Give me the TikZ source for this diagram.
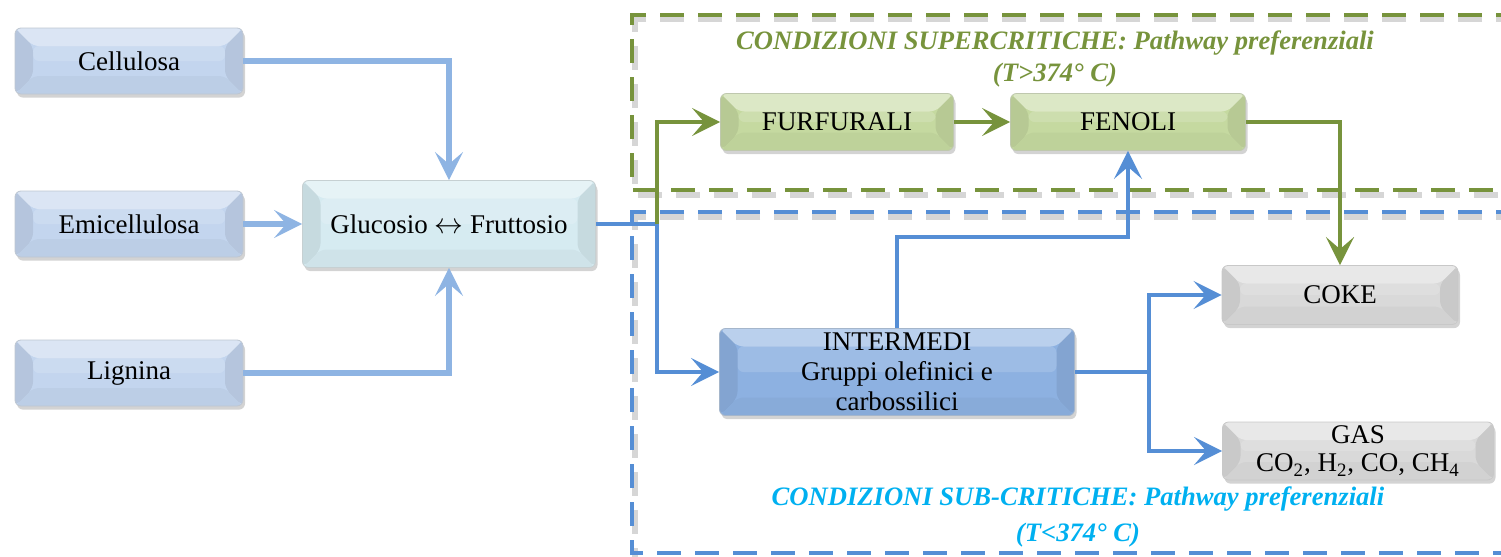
\documentclass[tikz,border=0pt]{standalone}
\usepackage{fontspec}
\setmainfont{Liberation Serif}
\usetikzlibrary{arrows.meta,shadows,calc}
\definecolor{lblue}{HTML}{8EB4E3}
\definecolor{dblue}{HTML}{558ED5}
\definecolor{grn}{HTML}{77933C}
\definecolor{cyantxt}{HTML}{00B0F0}
\definecolor{cbox}{HTML}{C3D5EE}
\definecolor{gbox}{HTML}{D6EBF1}
\definecolor{ibox}{HTML}{8DB1E1}
\definecolor{fbox}{HTML}{C5D9A0}
\definecolor{kbox}{HTML}{D9D9D9}
\tikzset{
  bev/.style n args={3}{rectangle, rounded corners=3pt, inner sep=0pt,
    minimum width=#2*0.5pt, minimum height=#3*0.5pt, align=center,
    fill=#1, draw=#1!75!black!60!white, line width=0.4pt,
    font=\fontsize{13.5}{15}\selectfont,
    drop shadow={shadow xshift=1pt, shadow yshift=-1.8pt, opacity=.35, fill=black!50},
    path picture={
      \coordinate (nw) at (path picture bounding box.north west);
      \coordinate (ne) at (path picture bounding box.north east);
      \coordinate (sw) at (path picture bounding box.south west);
      \coordinate (se) at (path picture bounding box.south east);
      \fill[white,opacity=.40] (nw) -- (ne) -- ($(ne)+(-9pt,-9pt)$) -- ($(nw)+(9pt,-9pt)$) -- cycle;
      \fill[white,opacity=.15] ($(nw)+(9pt,-9pt)$) rectangle ($(path picture bounding box.east)+(-9pt,0pt)$);
      \fill[black,opacity=.07] (nw) -- ($(nw)+(9pt,-9pt)$) -- ($(sw)+(9pt,9pt)$) -- (sw) -- cycle;
      \fill[black,opacity=.07] (ne) -- ($(ne)+(-9pt,-9pt)$) -- ($(se)+(-9pt,9pt)$) -- (se) -- cycle;
      \fill[black,opacity=.03] (sw) -- (se) -- ($(se)+(-9pt,9pt)$) -- ($(sw)+(9pt,9pt)$) -- cycle;
    }},
  tip/.style={-{Stealth[length=14pt,width=14pt,inset=6pt]}},
  lb/.style={draw=lblue, line width=2.8pt, tip, color=lblue},
  db/.style={draw=dblue, line width=2.4pt, tip, color=dblue},
  gr/.style={draw=grn, line width=2.4pt, tip, color=grn},
  dashbox/.style={line width=2.2pt, dash pattern=on 12pt off 7pt},
  shadowline/.style={line width=2.6pt, dash pattern=on 12pt off 7pt, draw=black, opacity=.16},
  lab/.style={font=\fontsize{13.3}{16}\selectfont\bfseries\itshape, align=center}
}
\begin{document}
\begin{tikzpicture}[x=0.5pt,y=-0.5pt]
\useasboundingbox (0,0) rectangle (1501,557);
\clip (0,0) rectangle (1501,557);
% dashed frames
\draw[shadowline] (1520,19) -- (635,19) -- (635,195) -- (1520,195);
\draw[dashbox, draw=grn] (1520,15) -- (632,15) -- (632,190) -- (1520,190);
\draw[shadowline] (1520,217) -- (635,217) -- (635,560);
\draw[dashbox, draw=dblue] (1520,212) -- (632,212) -- (632,553) -- (1520,553);
% labels
\node[lab, text=grn] (suplab) at (1055,59) {CONDIZIONI SUPERCRITICHE: Pathway preferenziali\\(T>374° C)};
\node[lab, text=cyantxt] (sublab) at (1078,517) {CONDIZIONI SUB-CRITICHE: Pathway preferenziali\\[2pt](T<374° C)};
% boxes
\node[bev={cbox}{228}{66}] (cell) at (129,61) {Cellulosa};
\node[bev={cbox}{228}{66}] (emi) at (129,224) {Emicellulosa};
\node[bev={cbox}{228}{66}] (lig) at (129,373) {Lignina};
\node[bev={gbox}{293}{87}] (gluc) at (449,224) {Glucosio $\leftrightarrow$ Fruttosio};
\node[bev={fbox}{233}{57}] (furf) at (837,122) {FURFURALI};
\node[bev={fbox}{235}{57}] (fen) at (1128,122) {FENOLI};
\node[bev={ibox}{355}{87}] (inter) at (897,372) {INTERMEDI\\Gruppi olefinici e\\carbossilici};
\node[bev={kbox}{236}{59}] (coke) at (1340,295) {COKE};
\node[bev={kbox}{271}{58}, font=\fontsize{13.5}{14}\selectfont] (gas) at (1358,451) {GAS\\CO\textsubscript{2}, H\textsubscript{2}, CO, CH\textsubscript{4}};
% connectors
\coordinate (j) at (657,224);
\coordinate (k) at (1128,237);
\coordinate (m) at (1149,372);
\draw[lb] (cell.east) -| (gluc.north);
\draw[lb] (lig.east) -| (gluc.south);
\draw[lb] (emi.east) -- (gluc.west);
\draw[db] (gluc.east) -- (j) |- (inter.west);
\draw[gr] (j) |- (furf.west);
\draw[gr] (furf.east) -- (fen.west);
\draw[gr] (fen.east) -| (coke.north);
\draw[db] (inter.north) |- (k) -- (fen.south);
\draw[db] (inter.east) -- (m) |- (coke.west);
\draw[db] (m) |- (gas.west);
\end{tikzpicture}
\end{document}
